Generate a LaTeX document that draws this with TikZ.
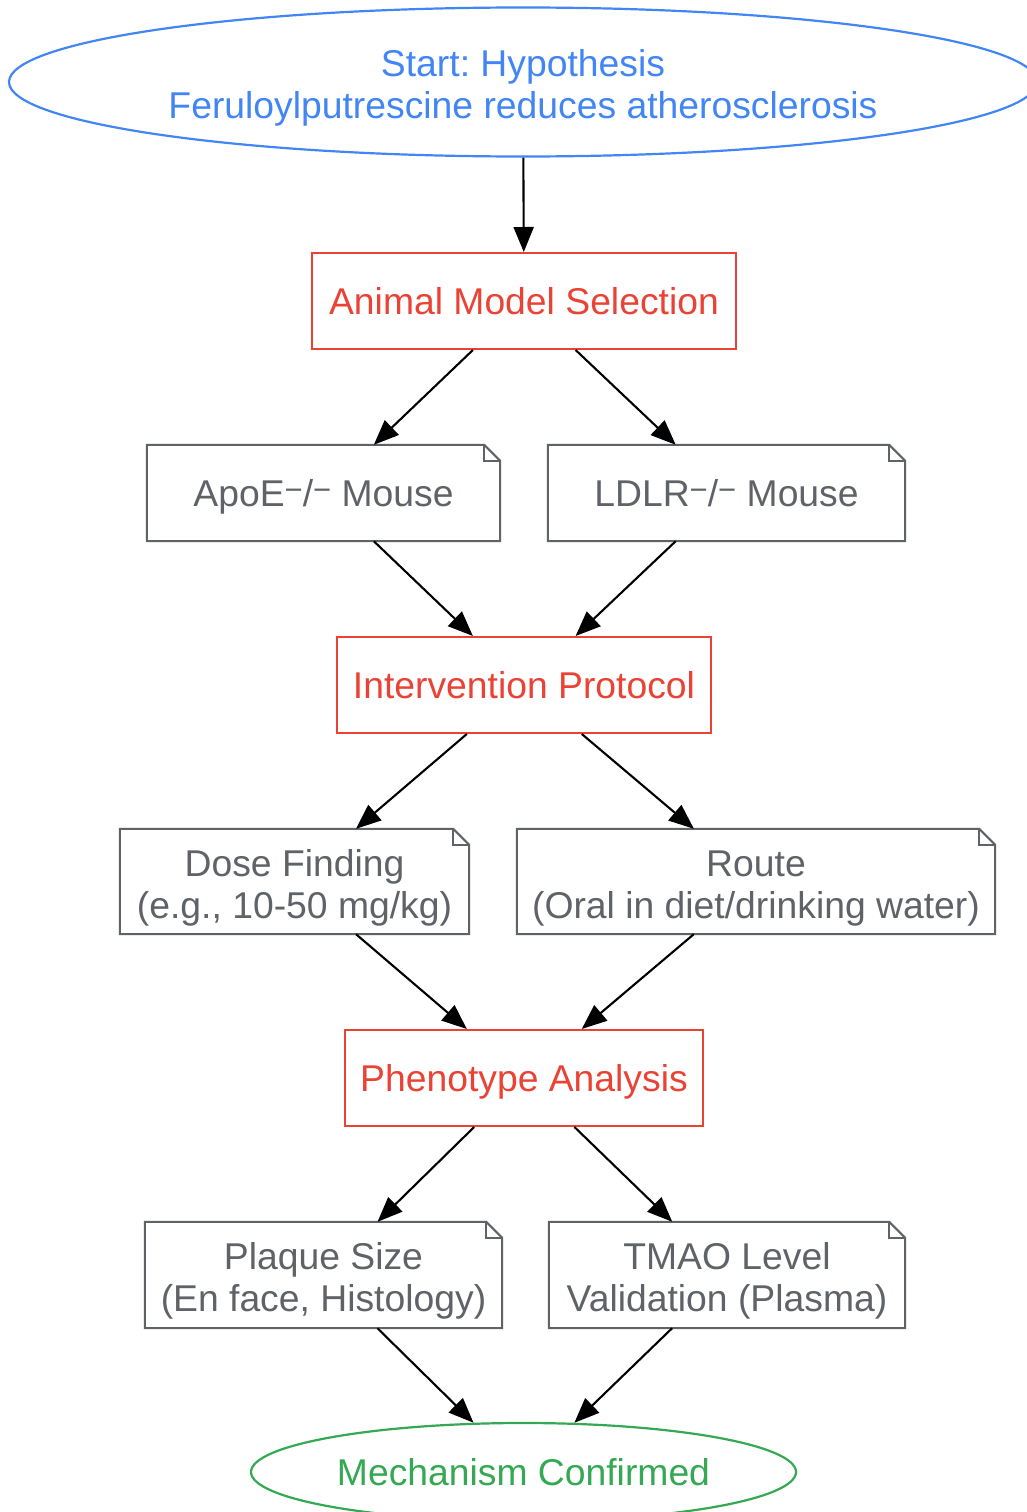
\documentclass[tikz,border=0pt]{standalone}
\usepackage{fontspec}
\setmainfont{Liberation Sans}
\usetikzlibrary{shapes.geometric,arrows.meta}
\frenchspacing

\definecolor{startblue}{RGB}{66,133,244}
\definecolor{stepred}{RGB}{234,67,53}
\definecolor{notegray}{RGB}{95,99,104}
\definecolor{endgreen}{RGB}{52,168,83}

\newcommand{\kosup}{\raisebox{6pt}{\fontsize{31}{31}\selectfont −}}
\newcommand{\lift}{\rule{0pt}{39pt}}

\tikzset{
  base/.style={font=\fontsize{37.3}{42}\selectfont, align=center, inner sep=0pt},
  oneline/.style={text height=27pt, text depth=0pt},
  terminal/.style={base, ellipse, line width=2.2pt},
  stepbox/.style={base, oneline, draw=stepred, text=stepred, line width=2pt, minimum height=96},
  notebox/.style={base, text=notegray},
  noteline/.style={draw=notegray, line width=2pt},
  flow/.style={-{Triangle[length=25pt,width=20pt]}, line width=2.1pt}
}

\begin{document}
\begin{tikzpicture}[x=1pt,y=-1pt]
\useasboundingbox (0,0) rectangle (1027,1512);

% start and end
\node[terminal, draw=startblue, text=startblue, minimum width=1028, minimum height=149] (start) at (523,82) {\lift Start: Hypothesis\\Feruloylputrescine reduces atherosclerosis};
\node[terminal, oneline, draw=endgreen, text=endgreen, minimum width=545, minimum height=98] (confirm) at (523.5,1472) {Mechanism Confirmed};

% main steps
\node[stepbox, minimum width=424] (select) at (524,301) {Animal Model Selection};
\node[stepbox, minimum width=374] (protocol) at (524,685) {Intervention Protocol};
\node[stepbox, minimum width=358] (pheno) at (524,1078) {Phenotype Analysis};

% notes
\node[notebox, oneline, minimum width=353, minimum height=96] (apoe) at (323.5,493) {ApoE\kosup/\kosup\ Mouse};
\node[notebox, oneline, minimum width=357, minimum height=96] (ldlr) at (726.5,493) {LDLR\kosup/\kosup\ Mouse};
\node[notebox, minimum width=349, minimum height=105] (dose) at (294.5,881.5) {\lift Dose Finding\\(e.g., 10-50 mg/kg)};
\node[notebox, minimum width=478, minimum height=105] (route) at (756,881.5) {\lift Route\\(Oral in diet/drinking water)};
\node[notebox, minimum width=357, minimum height=106] (plaque) at (323.5,1275) {\lift Plaque Size\\(En face, Histology)};
\node[notebox, minimum width=356, minimum height=106] (tmao) at (727,1275) {\lift TMAO Level\\Validation (Plasma)};

% note outlines with folded corner
\foreach \n in {apoe,ldlr,dose,route,plaque,tmao}{
  \draw[noteline] (\n.south west) -- (\n.north west) -- ([xshift=-16pt]\n.north east)
    -- ([yshift=-16pt]\n.north east) -- (\n.south east) -- cycle;
  \draw[noteline] ([xshift=-16pt]\n.north east) |- ([yshift=-16pt]\n.north east);
}

% connectors
\draw[flow] (start) -- (select);
\draw[flow] (select) -- (apoe);
\draw[flow] (select) -- (ldlr);
\draw[flow] (apoe) -- (protocol);
\draw[flow] (ldlr) -- (protocol);
\draw[flow] (protocol) -- (dose);
\draw[flow] (protocol) -- (route);
\draw[flow] (dose) -- (pheno);
\draw[flow] (route) -- (pheno);
\draw[flow] (pheno) -- (plaque);
\draw[flow] (pheno) -- (tmao);
\draw[flow] (plaque) -- (confirm);
\draw[flow] (tmao) -- (confirm);

\end{tikzpicture}
\end{document}
